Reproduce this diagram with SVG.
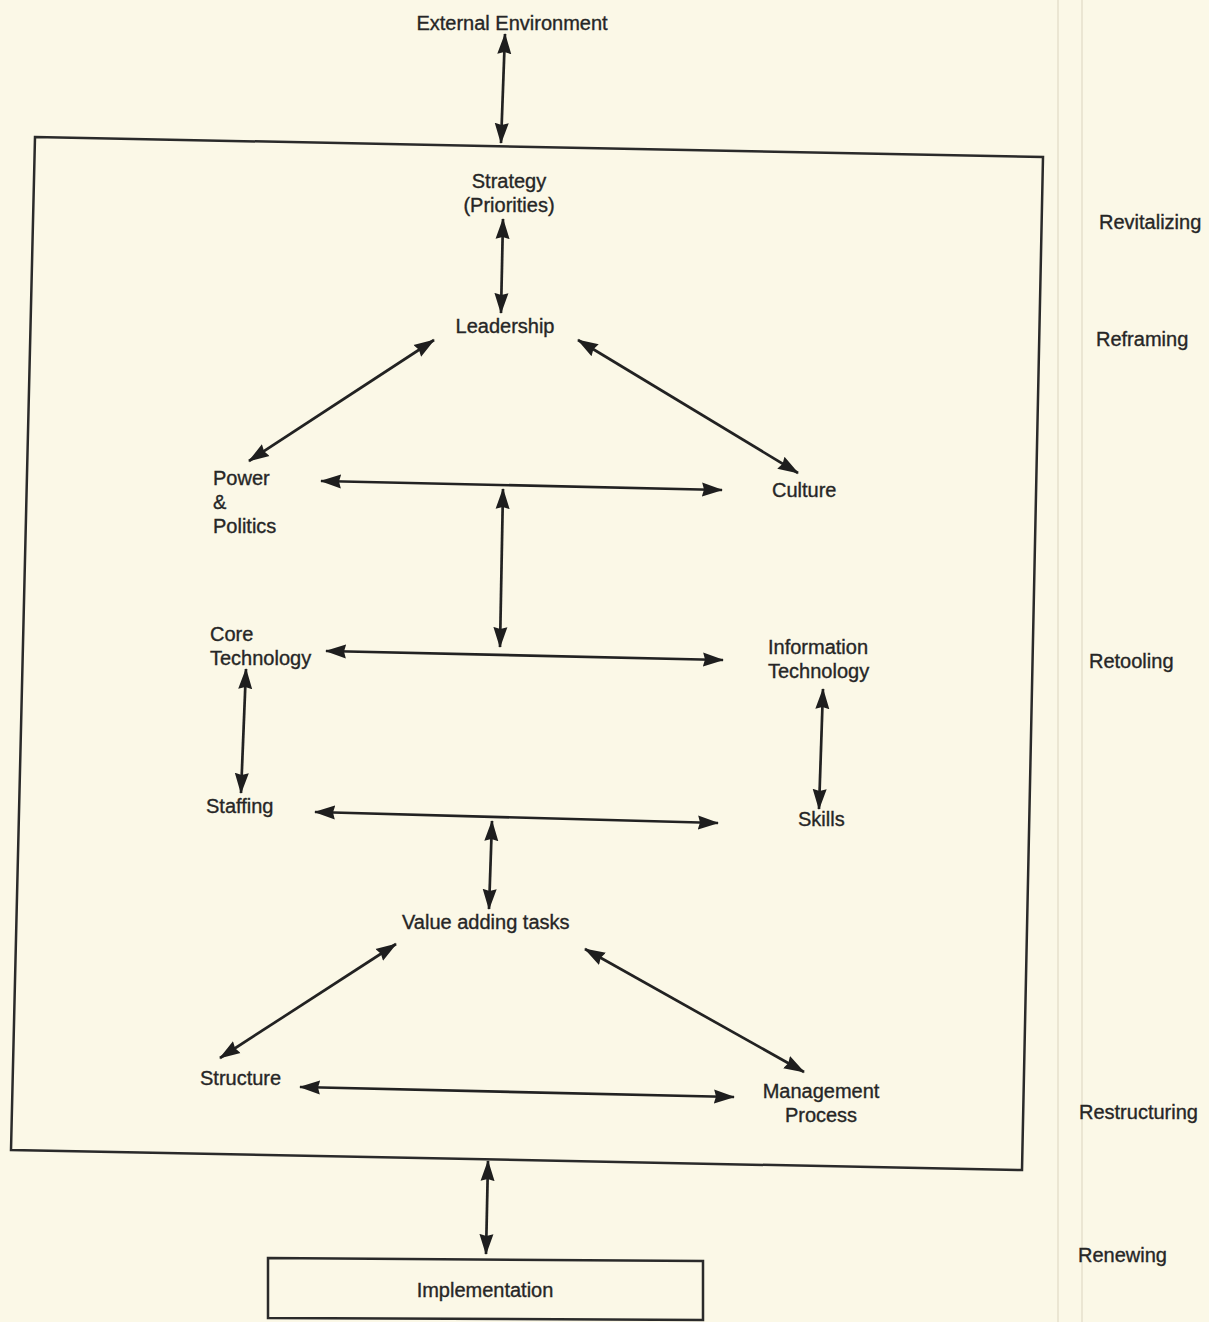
<svg xmlns="http://www.w3.org/2000/svg" width="1209" height="1322" viewBox="0 0 1209 1322">
<defs>
<marker id="ah" markerUnits="userSpaceOnUse" markerWidth="22" markerHeight="16" refX="20" refY="8" orient="auto-start-reverse" viewBox="0 0 22 16">
<path d="M0,1 L21,8 L0,15 L2,8 z" fill="#1e1e1e"/>
</marker>
</defs>
<style>
text{font-family:"Liberation Sans",Arial,sans-serif;font-size:20px;fill:#262626;stroke:#262626;stroke-width:0.35}
.frame{fill:none;stroke:#2a2a2a;stroke-width:2.5}
.c line{stroke:#222;stroke-width:2.7;marker-start:url(#ah);marker-end:url(#ah)}
.fold{stroke:#e6e0cc;stroke-width:1.5}
</style>
<rect width="1209" height="1322" fill="#fbf8e7"/>
<line class="fold" x1="1058" y1="0" x2="1058" y2="1322"/>
<line class="fold" x1="1082" y1="0" x2="1082" y2="1322"/>

<g id="frame"><polygon class="frame" points="35,137 1043,157 1022,1170 11,1150"/></g>

<g id="external"><text x="512" y="30" text-anchor="middle">External Environment</text></g>
<g id="strategy"><text x="509" y="188" text-anchor="middle">Strategy</text><text x="509" y="212" text-anchor="middle">(Priorities)</text></g>
<g id="leadership"><text x="505" y="333" text-anchor="middle">Leadership</text></g>
<g id="power"><text x="213" y="485">Power</text><text x="213" y="509">&amp;</text><text x="213" y="533">Politics</text></g>
<g id="culture"><text x="772" y="497">Culture</text></g>
<g id="coretech"><text x="210" y="641">Core</text><text x="210" y="665">Technology</text></g>
<g id="infotech"><text x="768" y="654">Information</text><text x="768" y="678">Technology</text></g>
<g id="staffing"><text x="206" y="813">Staffing</text></g>
<g id="skills"><text x="798" y="826">Skills</text></g>
<g id="value"><text x="402" y="929">Value adding tasks</text></g>
<g id="structure"><text x="200" y="1085">Structure</text></g>
<g id="management"><text x="821" y="1098" text-anchor="middle">Management</text><text x="821" y="1122" text-anchor="middle">Process</text></g>
<g id="implementation"><polygon class="frame" points="268,1258 703,1261 703,1320 268,1318"/><text x="485" y="1297" text-anchor="middle">Implementation</text></g>

<g id="stages">
<text x="1099" y="229">Revitalizing</text>
<text x="1096" y="346">Reframing</text>
<text x="1089" y="668">Retooling</text>
<text x="1079" y="1119">Restructuring</text>
<text x="1078" y="1262">Renewing</text>
</g>

<g id="connectors" class="c">
<line x1="505" y1="34" x2="501" y2="143"/>
<line x1="503" y1="219" x2="501" y2="313"/>
<line x1="434" y1="340" x2="249" y2="461"/>
<line x1="578" y1="340" x2="798" y2="473"/>
<line x1="321" y1="481" x2="722" y2="490"/>
<line x1="503" y1="489" x2="500" y2="647"/>
<line x1="326" y1="651" x2="723" y2="660"/>
<line x1="246" y1="669" x2="241" y2="793"/>
<line x1="823" y1="689" x2="819" y2="809"/>
<line x1="315" y1="812" x2="718" y2="823"/>
<line x1="492" y1="821" x2="489" y2="909"/>
<line x1="396" y1="944" x2="220" y2="1058"/>
<line x1="585" y1="949" x2="804" y2="1072"/>
<line x1="300" y1="1087" x2="734" y2="1097"/>
<line x1="488" y1="1161" x2="486" y2="1254"/>
</g>
</svg>
